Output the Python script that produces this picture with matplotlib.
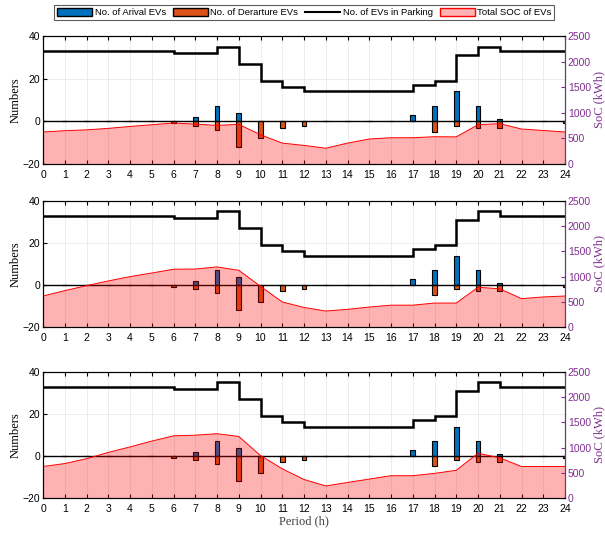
import matplotlib.pyplot as plt
from matplotlib.patches import Patch
from matplotlib.lines import Line2D

plt.rcParams['font.family'] = ['Liberation Sans', 'DejaVu Sans']

hours = list(range(25))

arrivals = [0, 0, 0, 0, 0, 0, 0, 2, 7, 4, 0, 0, 0, 0, 0, 0, 0, 3, 7, 14, 7, 1, 0, 0, 0]
departures = [0, 0, 0, 0, 0, 0, -1, -2, -4, -12, -8, -3, -2, 0, 0, 0, 0, 0, -5, -2, -3, -3, 0, 0, -1]
parking = [33, 33, 33, 33, 33, 33, 32, 32, 35, 27, 19, 16, 14, 14, 14, 14, 14, 17, 19, 31, 35, 33, 33, 33]

# total SOC (kWh) for the three cases
soc_1 = [625, 650, 667, 696, 733, 767, 800, 779, 754, 775, 571, 408, 363, 308, 408, 488,
         513, 513, 533, 530, 767, 788, 683, 654, 625]
soc_2 = [615, 721, 821, 913, 1000, 1071, 1146, 1150, 1192, 1125, 808, 496, 388, 317, 350, 396,
         433, 433, 475, 475, 788, 758, 563, 596, 615]
soc_3 = [625, 683, 779, 904, 1013, 1129, 1233, 1246, 1275, 1221, 842, 579, 367, 238, 308, 375,
         442, 442, 488, 550, 888, 796, 625, 625, 625]

blue = '#0072BD'
orange = '#D95319'
purple = '#7E2F8E'

fig = plt.figure(figsize=(6.05, 5.33), dpi=100)
positions = [[0.0711, 0.6923, 0.8628, 0.2402],
             [0.0711, 0.3865, 0.8628, 0.2364],
             [0.0711, 0.0657, 0.8628, 0.2364]]

for i, soc in enumerate([soc_1, soc_2, soc_3]):
    ax = fig.add_axes(positions[i])
    ax.grid(True, color='#ececec', linewidth=0.7)
    ax.set_axisbelow(True)
    ax.bar(hours, arrivals, width=0.22, color=blue, edgecolor='black', linewidth=0.8, zorder=2)
    ax.bar(hours, departures, width=0.22, color=orange, edgecolor='black', linewidth=0.8, zorder=2)
    ax.axhline(0, color='black', linewidth=1.0, zorder=3)
    ax.stairs(parking, hours, color='black', linewidth=1.8, baseline=None, zorder=3)
    ax.set_xlim(0, 24)
    ax.set_ylim(-20, 40)
    ax.set_xticks(hours)
    ax.set_yticks([-20, 0, 20, 40])
    ax.tick_params(direction='in', top=True, labelsize=7.5, length=3, pad=2)
    ax.tick_params(axis='x', pad=4)
    ax.set_ylabel('Numbers', family='Liberation Serif', fontsize=9, labelpad=1)

    ax2 = ax.twinx()
    ax2.fill_between(hours, 0, soc, facecolor=(1, 0, 0, 0.3), edgecolor='none')
    ax2.plot(hours, soc, color='red', linewidth=0.7)
    ax2.set_ylim(0, 2500)
    ax2.set_yticks([0, 500, 1000, 1500, 2000, 2500])
    ax2.tick_params(direction='in', colors=purple, labelsize=7.5, length=3, pad=2)
    ax2.spines['right'].set_color(purple)
    ax2.set_ylabel('SoC (kWh)', family='Liberation Serif', fontsize=9, color=purple, labelpad=2)

    if i == 2:
        ax.set_xlabel('Period (h)', family='Liberation Serif', fontsize=9, color='#404040', labelpad=1)

handles = [Patch(facecolor=blue, edgecolor='black'),
           Patch(facecolor=orange, edgecolor='black'),
           Line2D([], [], color='black', linewidth=1.5),
           Patch(facecolor='#FFB3B3', edgecolor='red')]
labels = ['No. of Arival EVs', 'No. of Derarture EVs', 'No. of EVs in Parking', 'Total SOC of EVs']
leg = fig.legend(handles, labels, loc='center', bbox_to_anchor=(0.503, 0.976), ncol=4,
                 fontsize=6.8, frameon=True, fancybox=False, edgecolor='#333333',
                 handlelength=3.7, handletextpad=0.25, columnspacing=0.75, borderpad=0.3,
                 handleheight=0.95, borderaxespad=0)
leg.get_frame().set_linewidth(0.8)

plt.savefig('out.png', dpi=100)
